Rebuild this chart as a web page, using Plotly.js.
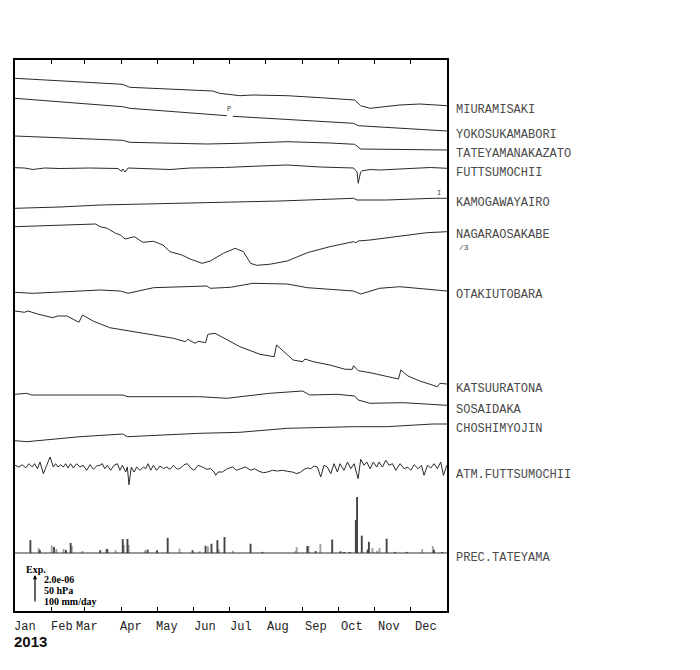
<!DOCTYPE html>
<html><head><meta charset="utf-8">
<script src="https://cdn.plot.ly/plotly-3.0.1.min.js"></script>
<style>body{margin:0;background:#fff}#chart{width:700px;height:670px}</style>
</head><body><div id="chart"></div>
<script>
// ---- data: day of year (2013) and relative change (plot units, up = positive) ----
const monthNames = ["Jan","Feb","Mar","Apr","May","Jun","Jul","Aug","Sep","Oct","Nov","Dec"];
const monthStarts = [0,31,59,90,120,151,181,212,243,273,304,334];

const stationNames = ["MIURAMISAKI","YOKOSUKAMABORI","TATEYAMANAKAZATO","FUTTSUMOCHII","KAMOGAWAYAIRO","NAGARAOSAKABE","OTAKIUTOBARA","KATSUURATONA","SOSAIDAKA","CHOSHIMYOJIN","ATM.FUTTSUMOCHII","PREC.TATEYAMA"];

const miuraDays = [0,44,91,97,167,173,190,201,230,258,287,292,300,325,342,365];
const miuraVals = [0,-2.7,-6,-9,-12.7,-15,-17.4,-16.7,-17.4,-19.4,-21.7,-27.4,-30,-26.7,-25.7,-27.4];

const yokoDays = [0,44,91,97,139,179,181,184,232,286,290,325,365];
const yokoVals = [0,-3.7,-8.4,-10,-13.7,-17.4,null,-18,-21.2,-25,-27.4,-29.7,-32.7];

const tateDays = [0,46,91,97,162,190,230,266,287,292,325,365];
const tateVals = [0,-2,-4.3,-6.3,-8,-7.3,-5.7,-7,-8.3,-13,-13.5,-14];

const futtDays = [0,8,15,25,38,63,87,90,91,93,95.5,114,131,148,167,177,207,230,258,286,289,290,292,293,300,308,325,351,365];
const futtVals = [0,-0.3,-1.8,-0.3,-0.8,-0.3,-0.8,-3.8,-1.3,-4.3,-0.3,-0.8,-1.8,-0.3,0,0.2,1.7,2.7,0.7,-0.3,-4.3,-15.6,-4.3,-3.3,-1.8,-2.3,-1.3,0.2,-0.6];

const kamoDays = [0,38,72,114,156,190,224,258,286,289,314,353,365];
const kamoVals = [0,1.3,3.3,4.3,5.6,5.8,7.3,8.8,10,8.3,8.3,10,10];

const nagaDays = [0,38,68,72,78,85,89,93,101,108,117,125,131,141,148,158,165,176,186,193,199,204,215,230,247,266,286,288,290,300,328,348,365];
const nagaVals = [0,1.2,2.7,0,-1.6,-6.6,-8.3,-12.3,-10,-15.6,-14.6,-18.3,-25,-28.3,-32.3,-36.6,-34.3,-26.6,-21.6,-25,-36.6,-38.6,-37.6,-34.3,-26,-20,-15,-16,-14.3,-13.3,-9.3,-6,-5];

const otakDays = [0,15,38,72,89,95.5,117,162,165,182,201,230,247,266,286,292,308,325,342,365];
const otakVals = [0,-1,0.3,2.3,1.3,-1,4.6,6.3,4,5,9,8.3,4.6,3,1.3,-1.7,4,5.6,4,1.3];

const katsDays = [0,8,11,19,32,36,44,54,57,66,80,103,116,134,144,146,152,155,161,163,169,179,190,207,219,221,226,235,243,245,252,266,279,285,286,290,300,324,326,332,342,357,359,365];
const katsVals = [0,-1.3,0,-3,-6.7,-5,-5,-11.3,-4,-10,-16.7,-21.3,-24,-27.3,-30.7,-28.3,-32.3,-30.3,-31.7,-23.3,-22.3,-29,-35.7,-43.3,-45.7,-34,-39.7,-49,-50.7,-48,-50.7,-54,-58.3,-58.3,-54.7,-59.7,-61.7,-68,-59,-65,-70,-75.7,-72.3,-73];

const sosaDays = [0,10,14,69,91,95.5,156,179,215,243,249,272,287,290,300,328,357,365];
const sosaVals = [0,1,-0.7,-0.4,-0.7,-2.4,-2.4,-4,1,3.3,-0.7,0,-1.7,-5.7,-9,-8.4,-11,-11];

const chosDays = [0,10,55,91,95,156,190,230,286,314,353,365];
const chosVals = [0,-1,4,6.7,4,7.4,8.4,12.4,14,14,16.7,16.7];

const atmDays = [0,3.4,6.2,9.0,11.8,14.6,16.6,18.9,21.1,24.0,26.8,29.6,32.4,34.4,36.3,38.6,40.8,42.8,44.8,47.0,49.3,52.1,54.9,57.7,60.6,63.4,66.2,69.0,71.8,73.8,75.8,78.0,80.8,83.7,86.5,88.7,90.7,93.5,94.9,96.3,98.3,100.6,102.8,105.6,108.5,110.4,112.4,114.7,116.9,119.7,122.5,125.4,128.2,131.0,133.8,137.2,140.0,142.8,145.6,148.5,151.3,154.7,158.3,162.0,165.4,168.2,169.6,171.6,175.2,179.4,183.7,187.3,190.7,194.9,199.2,202.5,206.2,209.9,213.2,217.5,221.7,225.9,230.1,234.4,238.0,241.4,244.2,247.0,249.9,252.7,255.5,258.3,261.1,263.9,266.8,269.6,272.4,274.6,278.0,280.9,283.7,286.5,289.9,292.1,294.9,297.2,300.0,302.8,305.6,307.6,310.4,313.3,316.1,318.9,321.7,325.4,328.7,331.6,334.4,337.2,340.6,343.4,345.6,348.5,351.3,354.1,356.9,359.7,362.0,364.8];
const atmVals = [1.7,0,2.3,-1,3.3,0,3.3,-1.7,5,-6.7,1.7,10,0,3.3,0,2.3,0,3.3,-1,3.3,-1,3.3,0,1.7,-3.3,2.3,-2.3,1,1.7,3.3,-1.7,1.7,-3.3,1.7,3.3,-3.3,1.7,-5,0,-17.7,0,-5,0,-3.3,0,-1.7,3.3,-3.3,1.7,-3.3,1,-1.7,0,-2.3,1.7,-2.3,-1,2.3,3.3,-1,-3.3,1.7,0,-2.3,-1.7,-5,-8.3,-5,-5,-1.7,0,-3.3,-1.7,0,-3.3,-1.7,-4.3,-5.7,-5,-3.3,-4,-3.3,-4.3,-5,-6.7,-5,-2.3,-1,-1.7,1,0,-10,1.7,0,-6.7,3.3,-5,3.3,-3.3,5,-1.7,3.3,-11.7,7.7,1.7,5,-1.7,5,0,5,0,6.7,1.7,3.3,-3.3,3.3,-1.7,0,-3.3,2.3,-1.7,1.7,-8.3,1.7,-1,3.3,-1.7,5,-8.3,1.7];

// precipitation (mm/day)
const precDarkDays = [13,21,33,43,47,72,78,91,95,112,120,129,150,161,166,171,177,199,209,247,254,268,275,278,283,288,289,293,298,299,314,321,331,354,361];
const precDarkMM   = [46,11,21,11,36,10,14,50,50,12,10,54,10,26,33,46,57,33,4,25,7,48,6,4,4,118,200,62,12,40,51,4,4,12,4];
const precLightDays = [20,31,35,41,48,57,77,85,92,96,110,139,156,163,172,184,237,238,248,258,302,306,308,344,353];
const precLightMM   = [18,27,14,14,25,7,15,10,29,29,10,15,6,24,14,8,8,21,25,32,18,8,18,14,25];

// ---- layout positions (plot units from bottom) ----
const bases = {miura:532.7, yoko:512.7, tate:475, futt:443.3, kamo:402.7, naga:384.3, otak:318.7, kats:300, sosa:216.7, chos:170.3, atm:144, prec:58};
const precScale = 0.28; // plot units per mm/day (100 mm/day = 28)
const labelY = [110,135,154,173,203,235,295,389,410,429,475,558]; // px from top

const lineStyle = {color:'#2a2a2a', width:1};
function tr(days, vals, base){
  return {x:days, y:vals.map(v => v===null ? null : base+v), type:'scatter', mode:'lines', line:lineStyle, connectgaps:false, hoverinfo:'skip'};
}
const traces = [
  tr(miuraDays, miuraVals, bases.miura),
  tr(yokoDays, yokoVals, bases.yoko),
  tr(tateDays, tateVals, bases.tate),
  tr(futtDays, futtVals, bases.futt),
  tr(kamoDays, kamoVals, bases.kamo),
  tr(nagaDays, nagaVals, bases.naga),
  tr(otakDays, otakVals, bases.otak),
  tr(katsDays, katsVals, bases.kats),
  tr(sosaDays, sosaVals, bases.sosa),
  tr(chosDays, chosVals, bases.chos),
  tr(atmDays, atmVals, bases.atm),
  {x:precLightDays, y:precLightMM.map(v=>v*precScale), base:bases.prec, type:'bar', width:1.6, marker:{color:'#a0a0a0', line:{width:0}}, hoverinfo:'skip'},
  {x:precDarkDays, y:precDarkMM.map(v=>v*precScale), base:bases.prec, type:'bar', width:1.6, marker:{color:'#444444', line:{width:0}}, hoverinfo:'skip'}
];

const H = 551, W = 432, L = 15, T = 60;
const py2paper = py => (T + H - py)/H;
const px2paper = px => (px - L)/W;

const annotations = [];
stationNames.forEach((n,i)=>{
  annotations.push({text:n, xref:'paper', yref:'paper', x:px2paper(454), y:py2paper(labelY[i]), xanchor:'left', yanchor:'middle', showarrow:false, font:{family:'Liberation Mono, Courier New, monospace', size:12, color:'#4a4a4a'}});
});
annotations.push({text:'/3', xref:'paper', yref:'paper', x:px2paper(457), y:py2paper(247), xanchor:'left', yanchor:'middle', showarrow:false, font:{family:'Liberation Mono, monospace', size:8, color:'#444'}});
annotations.push({text:'P', xref:'x', yref:'paper', x:181, y:py2paper(109), xanchor:'center', yanchor:'middle', showarrow:false, font:{family:'Liberation Mono, monospace', size:7, color:'#444'}});
annotations.push({text:'I', xref:'x', yref:'paper', x:358, y:py2paper(193), xanchor:'center', yanchor:'middle', showarrow:false, font:{family:'Liberation Mono, monospace', size:7, color:'#444'}});
const monthShift = [-3,-2.7,-11,-3.6,-3,-1.5,-1,-0.5,0,0.6,1.1,2.7];
monthNames.forEach((m,i)=>{
  annotations.push({text:m, xref:'x', yref:'paper', x:monthStarts[i], xshift:monthShift[i], y:py2paper(627), xanchor:'left', yanchor:'middle', showarrow:false, font:{family:'Liberation Mono, Courier New, monospace', size:12, color:'#222'}});
});
annotations.push({text:'<b>2013</b>', xref:'paper', yref:'paper', x:px2paper(12), y:py2paper(641), xanchor:'left', yanchor:'middle', showarrow:false, font:{family:'Liberation Sans, Arial, sans-serif', size:15, color:'#111'}});
// legend box
const serifB = {family:'Liberation Serif, Times New Roman, serif', size:10, color:'#000'};
annotations.push({text:'<b>Exp.</b>', xref:'paper', yref:'paper', x:px2paper(24), y:py2paper(569), xanchor:'left', yanchor:'middle', showarrow:false, font:serifB});
annotations.push({text:'<b>2.0e-06</b>', xref:'paper', yref:'paper', x:px2paper(42), y:py2paper(579), xanchor:'left', yanchor:'middle', showarrow:false, font:serifB});
annotations.push({text:'<b>50 hPa</b>', xref:'paper', yref:'paper', x:px2paper(42), y:py2paper(590), xanchor:'left', yanchor:'middle', showarrow:false, font:serifB});
annotations.push({text:'<b>100 mm/day</b>', xref:'paper', yref:'paper', x:px2paper(42), y:py2paper(601), xanchor:'left', yanchor:'middle', showarrow:false, font:serifB});
annotations.push({text:'', xref:'paper', yref:'paper', x:px2paper(35), y:py2paper(575), ax:0, ay:28, showarrow:true, arrowhead:2, arrowsize:0.7, arrowwidth:1.2, arrowcolor:'#000'});

const layout = {
  width:700, height:670,
  margin:{l:15, r:253, t:60, b:59},
  paper_bgcolor:'#fff', plot_bgcolor:'#fff',
  showlegend:false, barmode:'overlay',
  xaxis:{range:[0,365], tickvals:monthStarts, ticks:'inside', ticklen:4, tickcolor:'#000', tickwidth:1, showticklabels:false, showgrid:false, zeroline:false, showline:true, linecolor:'#000', linewidth:2, mirror:'ticks', fixedrange:true},
  yaxis:{range:[0,551], ticks:'', showticklabels:false, showgrid:false, zeroline:false, showline:true, linecolor:'#000', linewidth:2, mirror:true, fixedrange:true},
  shapes:[{type:'line', xref:'paper', yref:'y', x0:0, x1:1, y0:bases.prec, y1:bases.prec, line:{color:'#333', width:1}}],
  annotations:annotations
};
Plotly.newPlot('chart', traces, layout, {staticPlot:true, displayModeBar:false});
</script></body></html>
